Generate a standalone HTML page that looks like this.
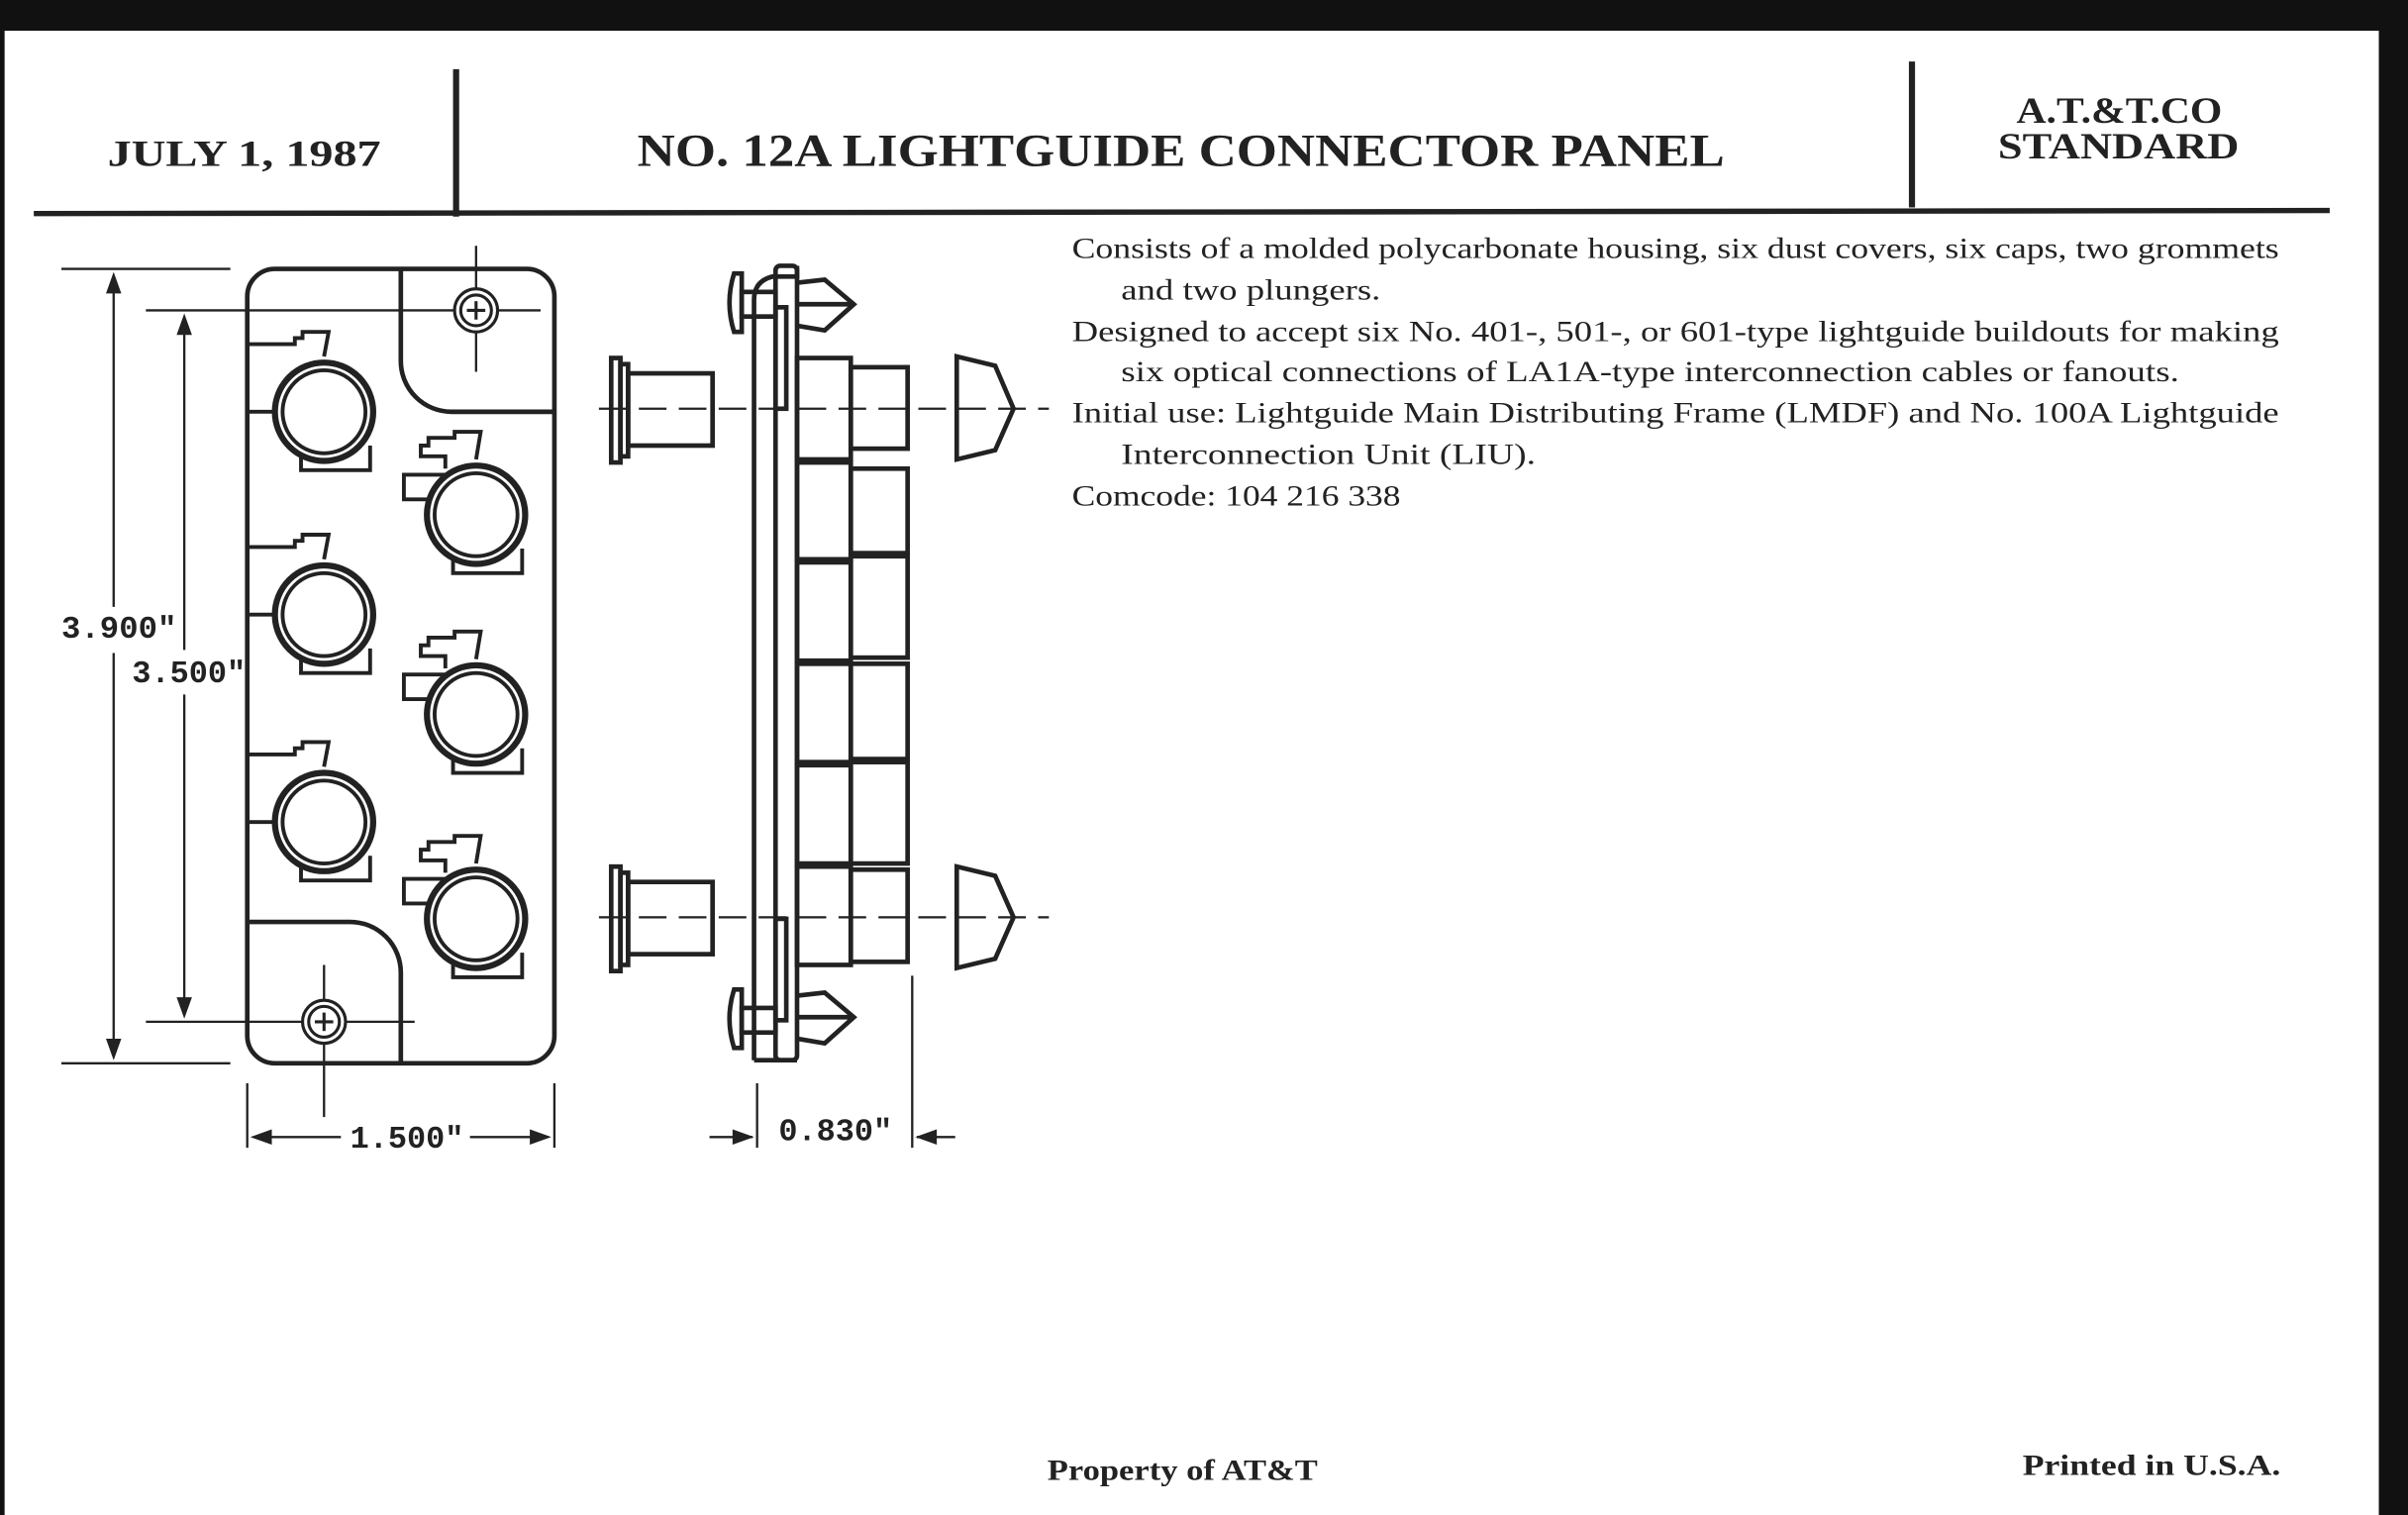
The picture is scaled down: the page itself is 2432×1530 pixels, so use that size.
<!DOCTYPE html>
<html><head><meta charset="utf-8"><style>
html,body{margin:0;padding:0;background:#fff;}
svg{display:block;}
.t{font-family:"Liberation Serif",serif;fill:#222;}
.m{font-family:"Liberation Mono",monospace;font-weight:bold;fill:#222;}
</style></head><body>
<svg width="2432" height="1530" viewBox="0 0 1568 986" preserveAspectRatio="none" xmlns="http://www.w3.org/2000/svg">
<rect x="0" y="0" width="1568" height="986" fill="#fff"/>
<rect x="0" y="0" width="1568" height="20" fill="#111"/>
<rect x="1549" y="0" width="19" height="986" fill="#111"/>
<rect x="0" y="0" width="3" height="986" fill="#111"/>
<g stroke="#222" fill="none">
<line x1="297" y1="45" x2="297" y2="141" stroke-width="4"/>
<line x1="1245" y1="40" x2="1245" y2="135" stroke-width="4"/>
<line x1="22" y1="139" x2="1517" y2="137" stroke-width="3.5"/>
</g>
<text class="t" x="70" y="108" font-size="24" font-weight="bold" textLength="178" lengthAdjust="spacingAndGlyphs">JULY 1, 1987</text>
<text class="t" x="415" y="108" font-size="30" font-weight="bold" textLength="708" lengthAdjust="spacingAndGlyphs">NO. 12A LIGHTGUIDE CONNECTOR PANEL</text>
<text class="t" x="1313" y="80" font-size="24" font-weight="bold" textLength="134" lengthAdjust="spacingAndGlyphs">A.T.&amp;T.CO</text>
<text class="t" x="1301" y="103" font-size="24" font-weight="bold" textLength="157" lengthAdjust="spacingAndGlyphs">STANDARD</text>
<g class="t" font-size="19">
<text x="698" y="168" textLength="786" lengthAdjust="spacingAndGlyphs">Consists of a molded polycarbonate housing, six dust covers, six caps, two grommets</text>
<text x="730" y="195" textLength="169" lengthAdjust="spacingAndGlyphs">and two plungers.</text>
<text x="698" y="222" textLength="786" lengthAdjust="spacingAndGlyphs">Designed to accept six No. 401-, 501-, or 601-type lightguide buildouts for making</text>
<text x="730" y="248" textLength="689" lengthAdjust="spacingAndGlyphs">six optical connections of LA1A-type interconnection cables or fanouts.</text>
<text x="698" y="275" textLength="786" lengthAdjust="spacingAndGlyphs">Initial use: Lightguide Main Distributing Frame (LMDF) and No. 100A Lightguide</text>
<text x="730" y="302" textLength="270" lengthAdjust="spacingAndGlyphs">Interconnection Unit (LIU).</text>
<text x="698" y="329" textLength="214" lengthAdjust="spacingAndGlyphs">Comcode: 104 216 338</text>
</g>
<text class="t" x="682" y="963" font-size="19" font-weight="bold" textLength="176" lengthAdjust="spacingAndGlyphs">Property of AT&amp;T</text>
<text class="t" x="1317" y="960" font-size="19" font-weight="bold" textLength="168" lengthAdjust="spacingAndGlyphs">Printed in U.S.A.</text>

<!-- front view -->
<g stroke="#222" fill="none" stroke-width="3">
<rect x="161" y="175" width="200" height="517" rx="18"/>
<path d="M261 175 V235 A33 33 0 0 0 294 268 H361"/>
<path d="M161 600 H228 A33 33 0 0 1 261 633 V692"/>
</g>
<g stroke="#222" fill="none" stroke-width="1.5">
<line x1="95" y1="202" x2="352" y2="202"/>
<line x1="310" y1="160" x2="310" y2="242"/>
<line x1="95" y1="665" x2="270" y2="665"/>
<line x1="211" y1="628" x2="211" y2="727"/>
<line x1="40" y1="175" x2="150" y2="175"/>
<line x1="40" y1="692" x2="150" y2="692"/>
<line x1="74" y1="180" x2="74" y2="395"/>
<line x1="74" y1="425" x2="74" y2="688"/>
<line x1="120" y1="207" x2="120" y2="423"/>
<line x1="120" y1="452" x2="120" y2="660"/>
<line x1="161" y1="705" x2="161" y2="747"/>
<line x1="361" y1="705" x2="361" y2="747"/>
<line x1="165" y1="740" x2="222" y2="740"/>
<line x1="306" y1="740" x2="357" y2="740"/>
<line x1="493" y1="705" x2="493" y2="747"/>
<line x1="594" y1="635" x2="594" y2="747"/>
<line x1="462" y1="740" x2="490" y2="740"/>
<line x1="597" y1="740" x2="622" y2="740"/>
</g>
<g fill="#222">
<path d="M74 177 l-5 14 h10z"/><path d="M74 690 l-5 -14 h10z"/>
<path d="M120 204 l-5 14 h10z"/><path d="M120 663 l-5 -14 h10z"/>
<path d="M163 740 l14 -5 v10z"/><path d="M359 740 l-14 -5 v10z"/>
<path d="M491 740 l-14 -5 v10z"/><path d="M596 740 l14 -5 v10z"/>
</g>
<g stroke="#222" fill="#fff" stroke-width="2">
<circle cx="310" cy="202" r="14"/><circle cx="310" cy="202" r="10"/>
<circle cx="211" cy="665" r="14"/><circle cx="211" cy="665" r="10"/>
</g>
<g stroke="#222" stroke-width="2">
<line x1="304" y1="202" x2="316" y2="202"/><line x1="310" y1="196" x2="310" y2="208"/>
<line x1="205" y1="665" x2="217" y2="665"/><line x1="211" y1="659" x2="211" y2="671"/>
</g>
<g class="m" font-size="20">
<text x="40" y="415" textLength="75" lengthAdjust="spacingAndGlyphs">3.900"</text>
<text x="86" y="444" textLength="74" lengthAdjust="spacingAndGlyphs">3.500"</text>
<text x="228" y="747" textLength="74" lengthAdjust="spacingAndGlyphs">1.500"</text>
<text x="507" y="742" textLength="74" lengthAdjust="spacingAndGlyphs">0.830"</text>
</g>

<!-- connectors -->
<defs>
<g id="cl" stroke="#222" fill="none" stroke-width="2.5">
<path d="M-50 -44 H-19 V-48 H-14 V-52 H3 L0 -36"/>
<path d="M-30 0 H-50"/>
<path d="M-15 28 V38 H30 V22"/>
<circle r="32" fill="#fff" stroke-width="4"/>
<circle r="27"/>
</g>
<g id="cr" stroke="#222" fill="none" stroke-width="2.5">
<path d="M-20 -30 V-38 H-36 V-45 H-31 V-50 H-14 V-54 H3 L0 -36"/>
<path d="M-30 -10 H-47 V-26 H-20"/>
<path d="M-15 28 V38 H30 V22"/>
<circle r="32" fill="#fff" stroke-width="4"/>
<circle r="27"/>
</g>
</defs>
<use href="#cl" x="211" y="268"/>
<use href="#cl" x="211" y="400"/>
<use href="#cl" x="211" y="535"/>
<use href="#cr" x="310" y="335"/>
<use href="#cr" x="310" y="465"/>
<use href="#cr" x="310" y="598"/>

<!-- side view -->
<g stroke="#222" fill="none" stroke-width="3">
<path d="M491 690 V195 Q491 183 503 180 H519 V173 H519"/>
<rect x="505" y="173" width="14" height="517" rx="3"/>
<line x1="491" y1="690" x2="519" y2="690"/>
<rect x="519" y="233" width="35" height="66"/>
<rect x="519" y="301" width="35" height="63"/>
<rect x="519" y="366" width="35" height="64"/>
<rect x="519" y="432" width="35" height="64"/>
<rect x="519" y="498" width="35" height="64"/>
<rect x="519" y="564" width="35" height="64"/>
<rect x="554" y="239" width="37" height="53"/>
<rect x="554" y="305" width="37" height="55"/>
<rect x="554" y="362" width="37" height="66"/>
<rect x="554" y="432" width="37" height="62"/>
<rect x="554" y="496" width="37" height="66"/>
<rect x="554" y="566" width="37" height="60"/>
<rect x="505" y="200" width="7" height="66"/>
<path d="M478 178 Q472 197 478 216 H483 V178Z"/>
<rect x="483" y="190" width="22" height="16"/>
<path d="M519 184 L537 182 L556 198 L537 215 L519 212 M519 198 H556"/>
<rect x="505" y="598" width="7" height="66"/>
<path d="M478 644 Q472 663 478 682 H483 V644Z"/>
<rect x="483" y="656" width="22" height="16"/>
<path d="M519 648 L537 646 L556 662 L537 679 L519 676 M519 662 H556"/>
<rect x="398" y="233" width="6" height="68"/>
<rect x="404" y="237" width="5" height="60"/>
<rect x="409" y="243" width="55" height="47"/>
<rect x="398" y="564" width="6" height="68"/>
<rect x="404" y="568" width="5" height="60"/>
<rect x="409" y="574" width="55" height="47"/>
<path d="M623 232 L648 238 L660 266 L648 293 L623 299Z"/>
<path d="M623 564 L648 570 L660 597 L648 624 L623 630Z"/>
</g>
<g stroke="#222" stroke-width="1.5" stroke-dasharray="18 8">
<line x1="390" y1="266" x2="683" y2="266"/>
<line x1="390" y1="597" x2="683" y2="597"/>
</g>
</svg>
</body></html>
